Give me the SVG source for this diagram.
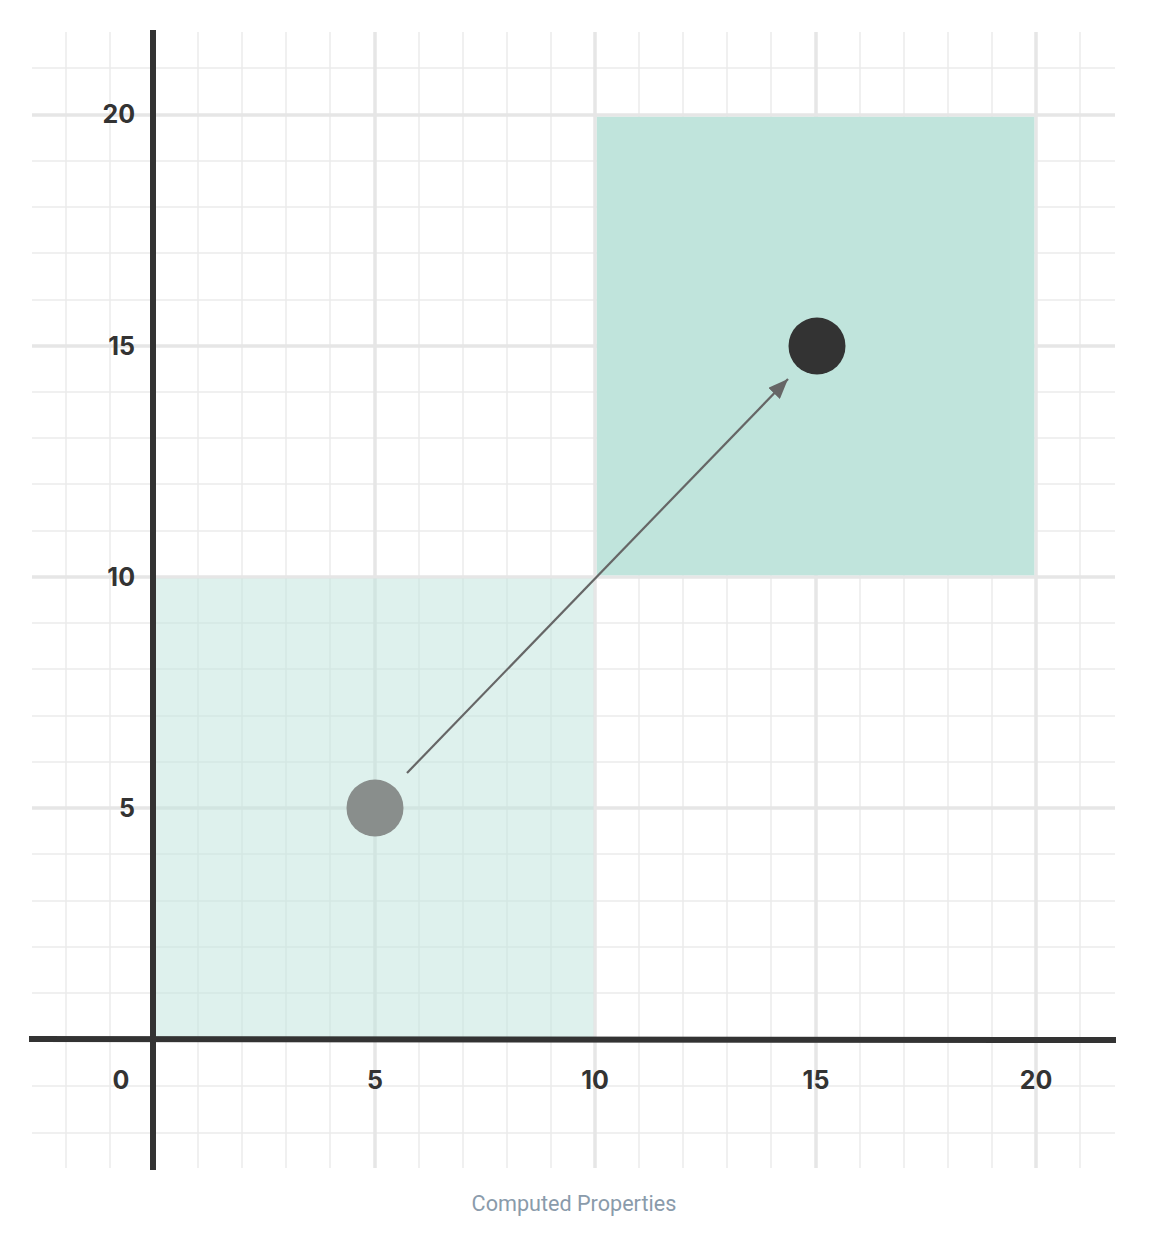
<svg xmlns="http://www.w3.org/2000/svg" width="1152" height="1238" viewBox="0 0 1152 1238">
<style>
.minor{stroke:#ebebeb;stroke-width:1.5;fill:none}
.major{stroke:#e6e6e6;stroke-width:3.5;fill:none}
.axis{stroke:#333333;stroke-width:6;fill:none}
.lbl{font-family:Inter,Roboto,"Liberation Sans",sans-serif;font-weight:bold;font-size:25px;fill:#333333}
.cap{font-family:Roboto,"Liberation Sans",sans-serif;font-size:21.6px;fill:#8a9bab}
</style>
<defs>
<marker id="ah2" viewBox="0 0 20 16" refX="20" refY="8" markerWidth="20" markerHeight="16" markerUnits="userSpaceOnUse" orient="auto">
<path d="M0,0 L20,8 L0,16 z" fill="#666666"/>
</marker>
</defs>
<rect width="1152" height="1238" fill="#ffffff"/>
<g id="grid">
<g class="minor">
<line x1="66" y1="32" x2="66" y2="1168"/>
<line x1="110" y1="32" x2="110" y2="1168"/>
<line x1="198" y1="32" x2="198" y2="1168"/>
<line x1="242" y1="32" x2="242" y2="1168"/>
<line x1="286" y1="32" x2="286" y2="1168"/>
<line x1="330" y1="32" x2="330" y2="1168"/>
<line x1="419" y1="32" x2="419" y2="1168"/>
<line x1="463" y1="32" x2="463" y2="1168"/>
<line x1="507" y1="32" x2="507" y2="1168"/>
<line x1="551" y1="32" x2="551" y2="1168"/>
<line x1="639" y1="32" x2="639" y2="1168"/>
<line x1="683" y1="32" x2="683" y2="1168"/>
<line x1="727" y1="32" x2="727" y2="1168"/>
<line x1="771" y1="32" x2="771" y2="1168"/>
<line x1="860" y1="32" x2="860" y2="1168"/>
<line x1="904" y1="32" x2="904" y2="1168"/>
<line x1="948" y1="32" x2="948" y2="1168"/>
<line x1="992" y1="32" x2="992" y2="1168"/>
<line x1="1080" y1="32" x2="1080" y2="1168"/>
<line x1="32" y1="68" x2="1115" y2="68"/>
<line x1="32" y1="161" x2="1115" y2="161"/>
<line x1="32" y1="207" x2="1115" y2="207"/>
<line x1="32" y1="253" x2="1115" y2="253"/>
<line x1="32" y1="300" x2="1115" y2="300"/>
<line x1="32" y1="392" x2="1115" y2="392"/>
<line x1="32" y1="438" x2="1115" y2="438"/>
<line x1="32" y1="484" x2="1115" y2="484"/>
<line x1="32" y1="531" x2="1115" y2="531"/>
<line x1="32" y1="623" x2="1115" y2="623"/>
<line x1="32" y1="669" x2="1115" y2="669"/>
<line x1="32" y1="716" x2="1115" y2="716"/>
<line x1="32" y1="762" x2="1115" y2="762"/>
<line x1="32" y1="854" x2="1115" y2="854"/>
<line x1="32" y1="901" x2="1115" y2="901"/>
<line x1="32" y1="947" x2="1115" y2="947"/>
<line x1="32" y1="993" x2="1115" y2="993"/>
<line x1="32" y1="1086" x2="1115" y2="1086"/>
<line x1="32" y1="1133" x2="1115" y2="1133"/>
</g>
<g class="major">
<line x1="375" y1="32" x2="375" y2="1168"/>
<line x1="595" y1="32" x2="595" y2="1168"/>
<line x1="816" y1="32" x2="816" y2="1168"/>
<line x1="1036" y1="32" x2="1036" y2="1168"/>
<line x1="32" y1="115" x2="1115" y2="115"/>
<line x1="32" y1="346" x2="1115" y2="346"/>
<line x1="32" y1="577" x2="1115" y2="577"/>
<line x1="32" y1="808" x2="1115" y2="808"/>
</g>
</g>
<g id="regions">
<rect x="154" y="578.5" width="439.5" height="461" fill="#c0e4dc" fill-opacity="0.52"/>
<rect x="596.8" y="116.8" width="437.5" height="458.5" fill="#c0e4dc"/>
</g>
<g id="axes">
<line class="axis" x1="153" y1="30" x2="153" y2="1170"/>
<line class="axis" x1="29" y1="1039" x2="1116" y2="1040"/>
</g>
<g id="labels">
<text class="lbl" x="135" y="123" text-anchor="end">20</text>
<text class="lbl" x="135" y="355" text-anchor="end">15</text>
<text class="lbl" x="135" y="586" text-anchor="end">10</text>
<text class="lbl" x="135" y="817" text-anchor="end">5</text>
<text class="lbl" x="121" y="1089" text-anchor="middle">0</text>
<text class="lbl" x="375" y="1089" text-anchor="middle">5</text>
<text class="lbl" x="595" y="1089" text-anchor="middle">10</text>
<text class="lbl" x="816" y="1089" text-anchor="middle">15</text>
<text class="lbl" x="1036" y="1089" text-anchor="middle">20</text>
</g>
<g id="start-point">
<circle cx="375" cy="808" r="28.5" fill="#898e8c"/>
</g>
<g id="end-point">
<circle cx="817" cy="346" r="28.5" fill="#333333"/>
</g>
<g id="connectors">
<line x1="407" y1="773" x2="788" y2="379" stroke="#666666" stroke-width="2.2" marker-end="url(#ah2)"/>
</g>
<text class="cap" x="574" y="1211" text-anchor="middle">Computed Properties</text>
</svg>
